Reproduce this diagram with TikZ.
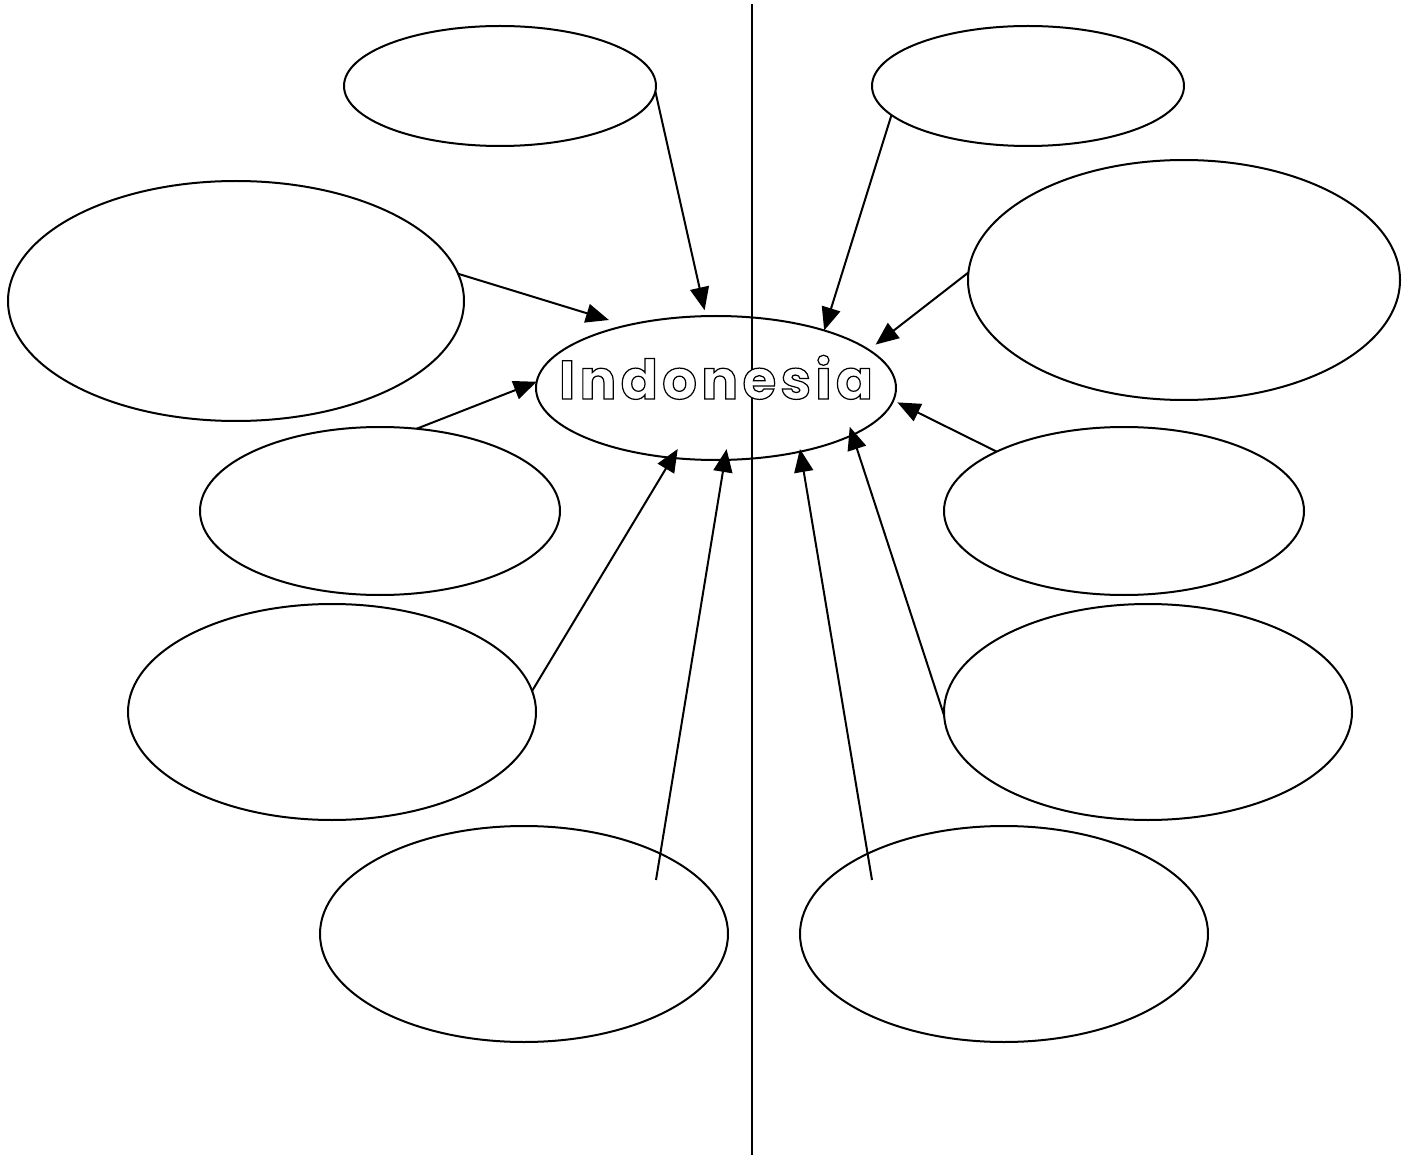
\documentclass[tikz,border=0pt]{standalone}
\usepackage{fontspec}
\usepackage{graphicx}
\usetikzlibrary{shapes.geometric,arrows.meta}
\newfontfamily\indfont[LetterSpace=8]{Poppins}
\makeatletter
\newcommand\outlineon{\pgfsys@invoke{2 Tr 1.2 w 0 0 0 RG 1 1 1 rg}}
\newcommand\outlineoff{\pgfsys@invoke{0 Tr 0 0 0 rg}}
\makeatother
\tikzset{
  bubble/.style={draw, ellipse, line width=2pt, inner sep=0pt, outer sep=0pt},
  link/.style={line width=2pt, -{Triangle[length=23pt,width=19pt]}},
  divider/.style={line width=2pt}
}
\begin{document}
\begin{tikzpicture}[x=1pt,y=-1pt]
\useasboundingbox (0,0) rectangle (1406,1155);
\coordinate (divtop) at (752,4);
\coordinate (divbot) at (752,1155);
\draw[divider] (divtop) -- (divbot);
\node[bubble, minimum width=312pt, minimum height=120pt] (tl) at (500,86) {};
\node[bubble, minimum width=312pt, minimum height=120pt] (tr) at (1028,86) {};
\node[bubble, minimum width=456pt, minimum height=240pt] (lb) at (236,301) {};
\node[bubble, minimum width=432pt, minimum height=240pt] (rb) at (1184,280) {};
\node[bubble, minimum width=360pt, minimum height=144pt] (c) at (716,388) {};
\node[bubble, minimum width=360pt, minimum height=168pt] (l3) at (380,511) {};
\node[bubble, minimum width=360pt, minimum height=168pt] (r3) at (1124,511) {};
\node[bubble, minimum width=408pt, minimum height=216pt] (l4) at (332,712) {};
\node[bubble, minimum width=408pt, minimum height=216pt] (r4) at (1148,712) {};
\node[bubble, minimum width=408pt, minimum height=216pt] (l5) at (524,934) {};
\node[bubble, minimum width=408pt, minimum height=216pt] (r5) at (1004,934) {};
\node[anchor=base, inner sep=0pt, yshift=-11pt] (ct) at (c.center)
  {\resizebox{314pt}{!}{\fontsize{54pt}{60pt}\selectfont\outlineon\indfont\bfseries Indonesia\outlineoff}};
\coordinate (s5) at (656,880);
\coordinate (s10) at (872,880);
\draw[link, shorten >=6pt] (tl.-2) -- (c.98.5);
\draw[link, shorten >=18.6pt] (lb.7.5) -- (c.145.9);
\draw[link] (l3.66) -- (c.178.3);
\draw[link, shorten >=-10.4pt] (l4.6.7) -- (c.238.8);
\draw[link, shorten >=-11pt] (s5) -- (c.277.3);
\draw[link] (tr.192.5) -- (c.28.1);
\draw[link, shorten >=8.7pt] (rb.178) -- (c.14.9);
\draw[link, shorten >=4.5pt] (r3.155.8) -- (c.-4.2);
\draw[link, shorten >=-8.6pt] (r4.181) -- (c.-19.8);
\draw[link, shorten >=-2.6pt] (s10) -- (c.-37);
\end{tikzpicture}
\end{document}
